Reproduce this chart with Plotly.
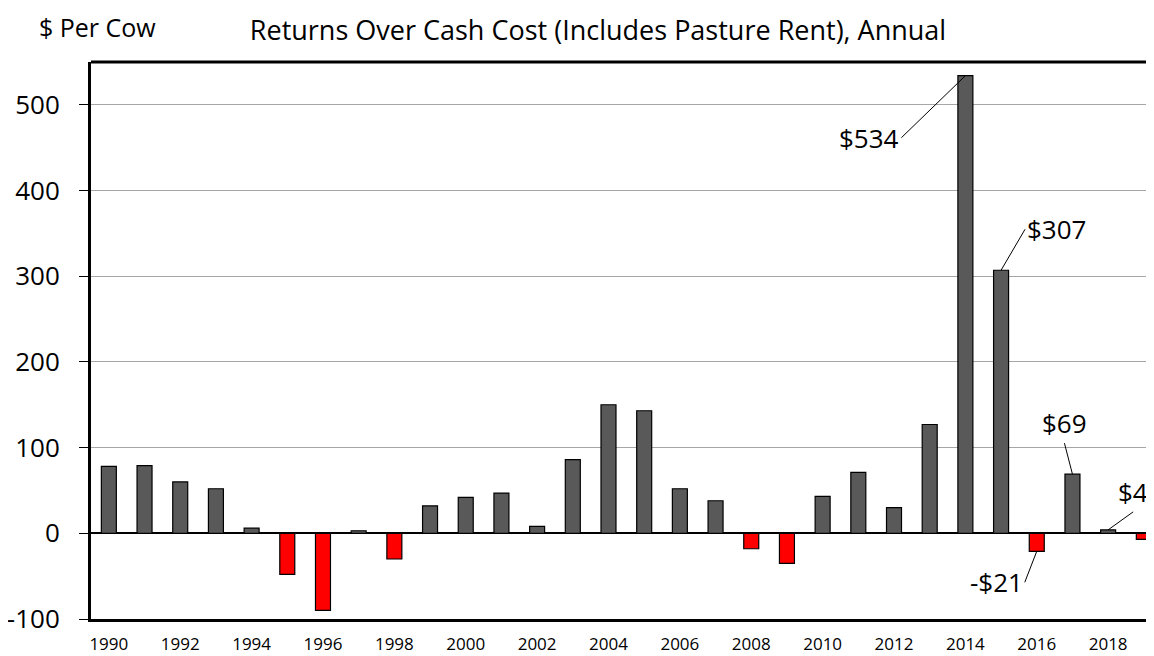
import plotly.graph_objects as go

years = list(range(1990, 2020))
returns = [78, 79, 60, 52, 6, -48, -90, 3, -30, 32,
           42, 47, 8, 86, 150, 143, 52, 38, -18, -35,
           43, 71, 30, 127, 534, 307, -21, 69, 4, -7]
tick_years = list(range(1990, 2019, 2))
y_ticks = [-100, 0, 100, 200, 300, 400, 500]
y_tick_text = ["-100", "0", "100", "200", "300", "400", "500"]
y_range = [-100, 550]
x_range = [1989.5, 2019.285]

labels = [
    # year, value, text, ax, ay, xanchor, yanchor
    (2014, 534, "$534", -64, 62, "right", "middle"),
    (2015, 307, "$307", 24, -41, "left", "middle"),
    (2017, 69, "$69", -8, -31, "center", "bottom"),
    (2018, 4, "$4", 25, -18, "center", "bottom"),
    (2016, -21, "-$21", -12, 31, "right", "middle"),
]

FONT = "Open Sans"
colors = ["#595959" if v >= 0 else "#ff0000" for v in returns]

# page has an 8px body margin: figure is offset by (8, 8)
W, H = 1146, 648

fig = go.Figure()
fig.add_trace(go.Bar(
    x=years, y=returns,
    marker=dict(color=colors, line=dict(color="#000000", width=1.2)),
    showlegend=False, hoverinfo="x+y",
))

annotations = []
for yr, val, txt, ax, ay, xa, ya in labels:
    annotations.append(dict(
        x=yr, y=val, xref="x", yref="y", text=txt,
        showarrow=True, arrowhead=0, arrowwidth=1, arrowcolor="#000000",
        ax=ax, ay=ay, xanchor=xa, yanchor=ya, standoff=0,
        font=dict(family=FONT, size=26, color="#000000"),
    ))
annotations.append(dict(
    x=-0.0508, y=1.0628, xref="paper", yref="paper", xanchor="left", yanchor="middle",
    text="$ Per Cow", showarrow=False,
    font=dict(family=FONT, size=25, color="#000000"),
))

fig.update_layout(
    width=W, height=H,
    margin=dict(l=83, r=0, t=54, b=37, autoexpand=False),
    paper_bgcolor="white", plot_bgcolor="white",
    bargap=0.58,
    title=dict(text="Returns Over Cash Cost (Includes Pasture Rent), Annual",
               x=590 / W, xanchor="center", xref="container",
               y=1 - 23 / H, yanchor="middle", yref="container",
               font=dict(family=FONT, size=27, color="#000000")),
    annotations=annotations,
    xaxis=dict(range=x_range, tickmode="array", tickvals=tick_years,
               ticktext=[str(t) for t in tick_years],
               tickfont=dict(family=FONT, size=17, color="#000000"),
               ticklabelstandoff=8, automargin=False,
               showline=True, linecolor="#000000", linewidth=3,
               ticks="", showgrid=False, zeroline=False, fixedrange=True),
    xaxis2=dict(range=x_range, overlaying="x", anchor="free",
                position=(0 - y_range[0]) / (y_range[1] - y_range[0]),
                side="bottom", tickmode="array",
                tickvals=[y + 0.5 for y in years], automargin=False,
                ticks="outside", ticklen=6, tickwidth=1, tickcolor="#000000",
                showticklabels=False, showgrid=False, showline=False, zeroline=False),
    yaxis=dict(range=y_range, tickmode="array", tickvals=y_ticks,
               ticktext=y_tick_text,
               tickfont=dict(family=FONT, size=26, color="#000000"),
               ticklabelstandoff=14, automargin=False,
               ticks="outside", ticklen=9, tickwidth=1, tickcolor="#000000",
               showline=True, linecolor="#000000", linewidth=3,
               showgrid=True, gridcolor="#a6a6a6", gridwidth=1,
               zeroline=True, zerolinecolor="#000000", zerolinewidth=2),
    shapes=[dict(type="line", xref="paper", yref="paper", x0=0, x1=1, y0=1, y1=1,
                 line=dict(color="#000000", width=3))],
)

fig.write_html("out.html")
